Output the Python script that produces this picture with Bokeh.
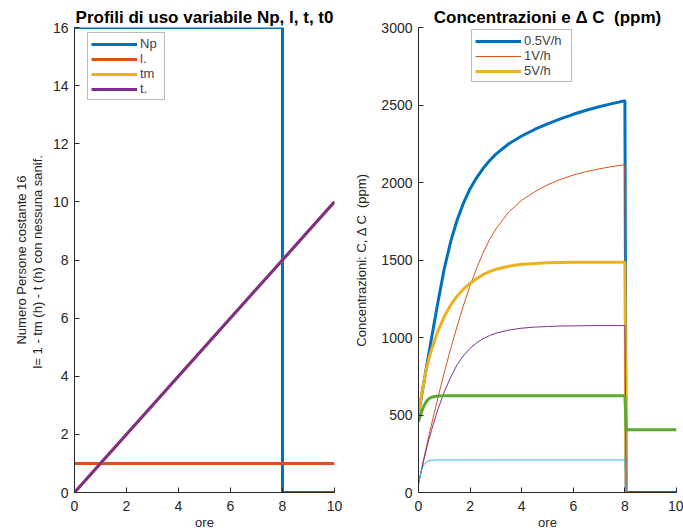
from bokeh.plotting import figure
from bokeh.layouts import row
from bokeh.models import Legend, LegendItem, Range1d, FixedTicker
from bokeh.embed import file_html
from bokeh.resources import INLINE

FONT = "Liberation Sans"
AX = "#262626"
C_BLUE = "#0072BD"
C_ORANGE = "#D95319"
C_YELLOW = "#EDB120"
C_PURPLE = "#7E2F8E"
C_GREEN = "#5DA82E"
C_CYAN = "#2FB4EA"

# ---------------- left chart data ----------------
np_t = [0, 8, 8, 10]
np_v = [16, 16, 0, 0]
l_t = [0, 10]
l_v = [1, 1]
tm_t = [0, 10]
tm_v = [0, 10]
tt_t = [0, 10]
tt_v = [0, 10]

# ---------------- right chart data ----------------
T = [0, 0.05, 0.1, 0.15, 0.2, 0.3, 0.4, 0.5, 0.75, 1.0, 1.25, 1.5, 1.75, 2.0, 2.25, 2.5,
     2.75, 3.0, 3.5, 4.0, 4.5, 5.0, 5.5, 6.0, 6.5, 7.0, 7.5, 8.0]
c_05 = [505, 555, 605, 655, 700, 800, 895, 990, 1225, 1445, 1620, 1760, 1870, 1960, 2030, 2090,
        2140, 2183, 2250, 2300, 2342, 2378, 2410, 2440, 2466, 2489, 2509, 2527]
c_1 = [55, 95, 135, 175, 215, 290, 365, 435, 610, 775, 930, 1075, 1210, 1335, 1445, 1545,
       1630, 1700, 1810, 1885, 1940, 1985, 2020, 2048, 2070, 2088, 2103, 2115]
c_5 = [500, 555, 610, 660, 705, 790, 860, 920, 1040, 1135, 1210, 1268, 1313, 1350, 1380, 1405,
       1425, 1440, 1460, 1472, 1478, 1482, 1484, 1485, 1486, 1486, 1486, 1486]
d_05 = [55, 95, 135, 170, 205, 275, 340, 400, 535, 650, 745, 825, 885, 930, 965, 992,
        1012, 1028, 1048, 1060, 1067, 1071, 1074, 1075, 1076, 1077, 1077, 1077]
d_1 = [458, 485, 510, 535, 555, 585, 605, 615, 623, 625, 625, 625, 625, 625, 625, 625,
       625, 625, 625, 625, 625, 625, 625, 625, 625, 625, 625, 625]
d_5 = [50, 95, 130, 158, 178, 198, 205, 208, 210, 210, 210, 210, 210, 210, 210, 210,
       210, 210, 210, 210, 210, 210, 210, 210, 210, 210, 210, 210]
T_AFTER = [8.05, 10.0]
c_05_after = [0, 0]
c_1_after = [0]
c_5_after = [0]
d_05_after = [0]
d_1_after = [405, 405]
d_5_after = [0, 0]

x_ticks = [0, 2, 4, 6, 8, 10]
y1_ticks = [0, 2, 4, 6, 8, 10, 12, 14, 16]
y2_ticks = [0, 500, 1000, 1500, 2000, 2500, 3000]


def style(p, xt, yt):
    p.grid.visible = False
    p.outline_line_color = None
    p.title.text_font = FONT
    p.title.text_font_size = "17px"
    p.title.text_font_style = "bold"
    p.title.align = "center"
    p.title.text_color = "#000000"
    p.title.standoff = 2
    for ax in p.axis:
        ax.axis_line_color = AX
        ax.major_tick_line_color = AX
        ax.major_tick_in = 5
        ax.major_tick_out = 0
        ax.minor_tick_line_color = None
        ax.major_label_text_font = FONT
        ax.major_label_text_font_size = "14px"
        ax.major_label_text_color = AX
        ax.axis_label_text_font = FONT
        ax.axis_label_text_font_size = "13px"
        ax.axis_label_text_font_style = "normal"
        ax.axis_label_text_color = AX
    p.xaxis.major_label_standoff = 8
    p.xaxis.axis_label_standoff = 1
    p.yaxis.major_label_standoff = 6
    p.xaxis.ticker = FixedTicker(ticks=xt)
    p.yaxis.ticker = FixedTicker(ticks=yt)
    p.xaxis.axis_label = "ore"


def make_legend(items, loc, label_w):
    return Legend(items=items, location=loc, glyph_width=46, glyph_height=12, label_height=12,
                  label_width=label_w, label_standoff=3, spacing=0, padding=3, margin=0,
                  label_text_font=FONT, label_text_font_size="13px", label_text_line_height=0.6,
                  border_line_color="#7a7a7a", border_line_width=1, background_fill_alpha=1)


# ---------------- left figure ----------------
p1 = figure(frame_width=260, frame_height=465, x_range=Range1d(0, 10), y_range=Range1d(0, 16),
            output_backend="svg", toolbar_location=None,
            min_border_left=74, min_border_right=10, min_border_top=27, min_border_bottom=38,
            title="Profili di uso variabile Np, l, t, t0")
style(p1, x_ticks, y1_ticks)
p1.yaxis.axis_label = "Numero Persone costante 16\nl= 1 -  tm (h) - t (h) con nessuna sanif."
p1.yaxis.axis_label_standoff = 5
p1.yaxis.axis_label_text_line_height = 1.05

r_np = p1.line(np_t, np_v, line_color=C_BLUE, line_width=3)
r_l = p1.line(l_t, l_v, line_color=C_ORANGE, line_width=3)
r_tm = p1.line(tm_t, tm_v, line_color=C_YELLOW, line_width=3)
r_t = p1.line(tt_t, tt_v, line_color=C_PURPLE, line_width=3)

leg1 = make_legend([LegendItem(label="Np", renderers=[r_np]),
                    LegendItem(label="l.", renderers=[r_l]),
                    LegendItem(label="tm", renderers=[r_tm]),
                    LegendItem(label="t.", renderers=[r_t])], (13, 392), 21)
p1.add_layout(leg1, "center")

# ---------------- right figure ----------------
p2 = figure(frame_width=258, frame_height=465, x_range=Range1d(0, 10), y_range=Range1d(0, 3000),
            output_backend="svg", toolbar_location=None,
            min_border_left=74, min_border_right=7, min_border_top=27, min_border_bottom=38,
            title="Concentrazioni e \u0394 C \u00a0(ppm)")
style(p2, x_ticks, y2_ticks)
p2.yaxis.axis_label = "Concentrazioni: C, \u0394 C \u00a0(ppm)"
p2.yaxis.axis_label_standoff = 9

r1 = p2.line(T + T_AFTER, c_05 + c_05_after, line_color=C_BLUE, line_width=3)
r2 = p2.line(T + T_AFTER[:1], c_1 + c_1_after, line_color=C_ORANGE, line_width=1)
r3 = p2.line(T + T_AFTER[:1], c_5 + c_5_after, line_color=C_YELLOW, line_width=3)
r4 = p2.line(T + T_AFTER[:1], d_05 + d_05_after, line_color=C_PURPLE, line_width=1)
r5 = p2.line(T + T_AFTER, d_1 + d_1_after, line_color=C_GREEN, line_width=3)
r6 = p2.line(T + T_AFTER, d_5 + d_5_after, line_color=C_CYAN, line_width=1)

leg2 = make_legend([LegendItem(label="0.5V/h", renderers=[r1]),
                    LegendItem(label="1V/h", renderers=[r2]),
                    LegendItem(label="5V/h", renderers=[r3])], (53, 410), 44)
p2.add_layout(leg2, "center")

layout = row(p1, p2)
open("out.html", "w").write(file_html(layout, INLINE))
